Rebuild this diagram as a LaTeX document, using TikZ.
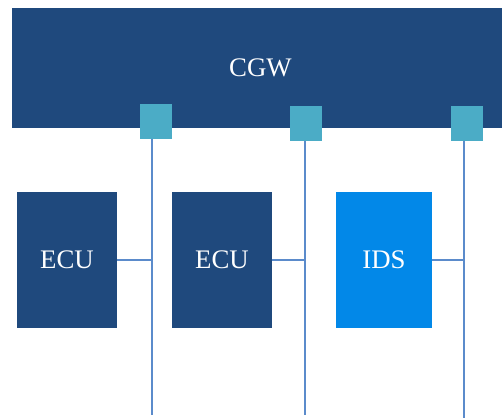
\documentclass[tikz,border=0pt]{standalone}
\usepackage{fontspec}
\setmainfont{Liberation Serif}
\definecolor{cgwblue}{HTML}{1F497D}
\definecolor{tealsq}{HTML}{4BACC6}
\definecolor{idsblue}{HTML}{0288E8}
\definecolor{busline}{HTML}{5B8BCB}
\begin{document}
\begin{tikzpicture}[x=1pt,y=-1pt,
  box/.style={fill=cgwblue,draw=none,text=white,font=\fontsize{26.8}{29}\selectfont,inner sep=0pt},
  port/.style={fill=tealsq,draw=none,inner sep=0pt},
  bus/.style={draw=busline,line width=2pt}]
\useasboundingbox (0,0) rectangle (502,418);
\node[box,minimum width=490,minimum height=120] (cgw) at (257,68) {\kern7pt\raisebox{-1.5pt}{CGW}};
\node[port,minimum width=32,minimum height=35] (p1) at (156,121.5) {};
\node[port,minimum width=32,minimum height=35] (p2) at (306,123.5) {};
\node[port,minimum width=32,minimum height=35] (p3) at (467,123.5) {};
\node[box,minimum width=100,minimum height=136] (e1) at (67,260) {\raisebox{-1pt}{ECU}};
\node[box,minimum width=100,minimum height=136] (e2) at (222,260) {\raisebox{-1pt}{ECU}};
\node[box,fill=idsblue,minimum width=96,minimum height=136] (ids) at (384,260) {\raisebox{-1pt}{IDS}};
\coordinate (b1) at (152,415);
\coordinate (b2) at (305,415);
\coordinate (b3) at (464,418);
\draw[bus] (p1.south -| b1) -- (b1);
\draw[bus] (p2.south -| b2) -- (b2);
\draw[bus] (p3.south -| b3) -- (b3);
\draw[bus] (e1.east) -- (e1.east -| b1);
\draw[bus] (e2.east) -- (e2.east -| b2);
\draw[bus] (ids.east) -- (ids.east -| b3);
\end{tikzpicture}
\end{document}
